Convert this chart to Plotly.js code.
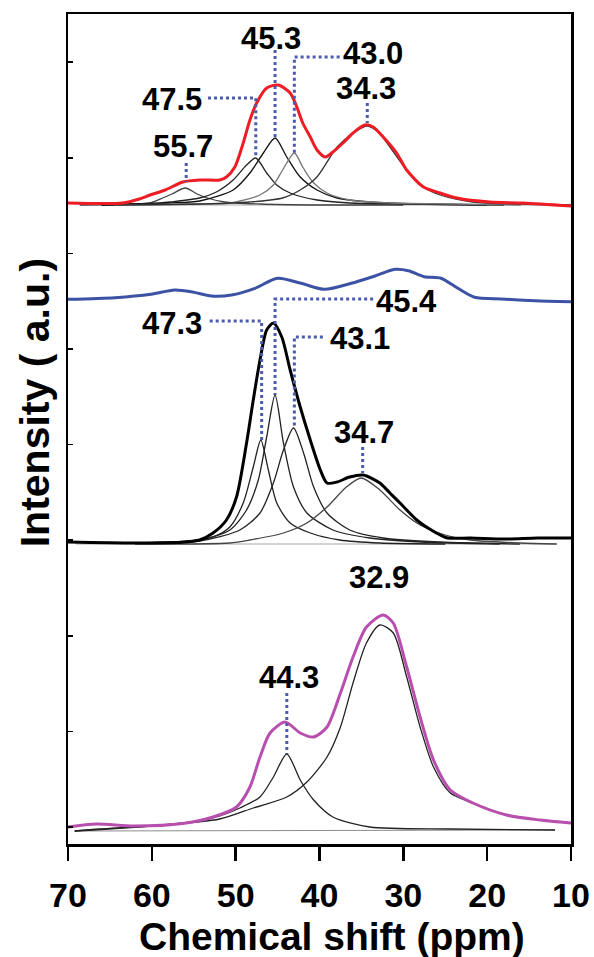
<!DOCTYPE html>
<html>
<head>
<meta charset="utf-8">
<script src="https://cdn.plot.ly/plotly-3.0.1.min.js"></script>
<style>html,body{margin:0;padding:0;background:#fff;}#chart{width:594px;height:957px;}</style>
</head>
<body>
<div id="chart"></div>
<script>
// ---- Data (chemical shift in ppm, intensity in a.u. relative to each spectrum's baseline) ----
const xTicks = [70, 60, 50, 40, 30, 20, 10];

// Top spectrum (red) and its fitted components
const redX = [70, 63.5, 61.5, 60.2, 58.4, 56.3, 54.3, 51.9, 51.1, 50.1, 49.1, 48.3, 47.5, 46.3, 44.9, 43.5, 42.7, 42.0, 41.1, 40.3, 39.3, 38.4, 37.2, 36.0, 34.6, 33.6, 32.4, 30.8, 29.6, 27.6, 25.6, 23.6, 19.7, 15.7, 10];
const redY = [0, 0, 4, 8, 13, 21, 23, 23, 26, 36, 60, 83, 100, 115, 118, 110, 96, 80, 66, 53, 46, 51, 60, 70, 78, 76, 66, 50, 33, 16, 10, 5, 1, 0, -3];
const r557X = [68.6, 62, 60.2, 58.7, 57.6, 56.0, 54.6, 53.4, 51.3, 47.1, 40, 30];
const r557Y = [-2, -1, 0, 5, 9, 15, 9, 5, 1, -1, -2, -2];
const r475X = [66, 59, 57.8, 54.3, 52.3, 50.3, 48.7, 47.6, 46.3, 45.1, 43.5, 40.3, 36.4, 30.4, 20];
const r475Y = [-2, 0, 1, 5, 11, 23, 38, 45, 30, 18, 10, 3, 0, -1, -2];
const r453X = [66, 58, 54.3, 50.3, 48.3, 46.7, 45.3, 43.9, 42.3, 40.3, 37.9, 34.0, 28.0, 18];
const r453Y = [-2, 0, 2, 13, 30, 50, 65, 46, 26, 13, 5, 1, -1, -2];
const r430X = [64, 55, 50.7, 47.1, 45.5, 44.4, 43.0, 42.0, 40.8, 39.1, 36.4, 31.6, 24, 16];
const r430Y = [-2, -1, 0, 8, 18, 33, 50, 36, 21, 10, 3, 0, -1, -2];
const r343X = [64, 54, 48.3, 44.4, 42.3, 40.3, 37.9, 35.8, 34.3, 33.0, 31.6, 29.6, 27.6, 25.6, 21.7, 16.1, 10];
const r343Y = [-2, -1, 1, 5, 13, 26, 56, 71, 77, 71, 56, 33, 16, 8, 1, -1, -2];

// Difference spectrum (blue)
const blueX = [70, 64.4, 60.1, 57.3, 55.3, 52.9, 50.5, 47.7, 45.0, 42.2, 39.4, 36.2, 33.4, 31.0, 29.4, 27.5, 25.5, 23.5, 21.5, 18.3, 14.3, 10];
const blueY = [0.7, 2.3, 5.7, 10, 8.3, 4, 5, 11.7, 21.7, 16.7, 10.7, 16.7, 24, 30.7, 29.3, 23.3, 21.7, 11.7, 2.7, 1, -0.7, -1.7];

// Middle spectrum (black) and its fitted components
const blackX = [70, 62, 56, 54.3, 52.7, 51.1, 49.9, 48.7, 47.9, 47.1, 46.3, 45.5, 44.5, 43.5, 42.3, 41.1, 39.9, 39.1, 37.9, 36.4, 34.8, 32.8, 31.6, 30.4, 29.6, 28.4, 27.6, 25.6, 24.7, 22, 18, 14, 10];
const blackY = [0, -1, 0, 2, 9, 22, 45, 99, 142, 182, 212, 219, 205, 172, 135, 102, 72, 59, 60, 65, 67, 59, 49, 39, 32, 22, 17, 7, 4, 4, 3, 4, 4];
const b473X = [62, 55.4, 52.7, 50.7, 49.1, 47.9, 47.0, 46.1, 45.1, 43.5, 41.1, 37.6, 32.8, 25];
const b473Y = [-1, 1, 5, 15, 39, 75, 102, 72, 39, 19, 9, 2, -1, -2];
const b454X = [62, 54.3, 50.7, 48.7, 47.3, 46.3, 45.3, 44.3, 43.1, 41.5, 38.4, 34.0, 28.0, 18.5];
const b454Y = [-1, 2, 12, 32, 62, 105, 147, 99, 55, 29, 12, 4, 0, -2];
const b431X = [62, 54.3, 49.5, 47.1, 45.5, 44.3, 43.1, 41.9, 40.7, 39.1, 36.4, 32.4, 25.6, 16.1];
const b431Y = [-1, 1, 12, 29, 59, 92, 114, 89, 55, 29, 12, 4, 0, -2];
const b347X = [62, 50.7, 48.3, 44.3, 41.5, 39.1, 36.8, 35.0, 32.8, 30.4, 28.0, 25.0, 22.0, 16.1, 11.7];
const b347Y = [-2, -1, 2, 9, 19, 35, 55, 64, 52, 32, 17, 7, 2, -1, -2];

// Bottom spectrum (magenta) and its fitted components
const magX = [70, 66.6, 62.2, 56.3, 52.7, 49.9, 48.3, 47.1, 45.9, 44.1, 42.3, 40.7, 39.1, 37.5, 36.0, 34.4, 32.4, 31.2, 29.6, 28.0, 26.4, 24.4, 21.7, 17.7, 13.7, 10];
const magY = [0, 3, 1, 3.5, 10, 20, 40, 70, 94, 105, 94, 90, 100, 134, 170, 200, 212, 204, 160, 110, 67, 37, 24, 12, 7, 4];
const m443X = [69.2, 66.2, 60.2, 54.3, 51.9, 49.5, 47.1, 45.5, 43.9, 42.3, 40.7, 38.4, 34.0, 24.4, 11.9];
const m443Y = [-4, -2, 1, 6, 11, 19, 30, 50, 73, 47, 27, 10, 0, -2, -3];
const m329X = [69.2, 60.2, 51.9, 47.9, 43.9, 41.5, 39.1, 37.5, 36.0, 34.4, 32.8, 31.2, 29.6, 28.0, 26.4, 24.4, 21.7, 17.7, 13.7, 10];
const m329Y = [-4, 1, 8, 19, 30, 45, 70, 100, 144, 184, 202, 194, 150, 100, 60, 34, 24, 12, 7, 4];

// Peak labels
const redPeaks = ["45.3", "43.0", "47.5", "55.7", "34.3"];
const blackPeaks = ["47.3", "45.4", "43.1", "34.7"];
const magPeaks = ["44.3", "32.9"];

// ---- Stacking offsets (vertical position of each baseline) ----
const OFF = {red: 641, blue: 544, black: 302, mag: 17};

function sh(arr, off) { return arr.map(v => v + off); }
function tr(x, y, off, color, width) {
  return {x: x, y: sh(y, off), type: 'scatter', mode: 'lines',
    line: {color: color, width: width, shape: 'spline', smoothing: 0.75},
    hoverinfo: 'skip', showlegend: false};
}

const compW = 1.3;
const traces = [
  // red section
  tr([68.6, 10], [-2, -2], OFF.red, 'rgba(0,0,0,0.35)', 1),
  tr(r557X, r557Y, OFF.red, '#444', compW),
  tr(r475X, r475Y, OFF.red, '#222', compW),
  tr(r453X, r453Y, OFF.red, '#111', compW),
  tr(r430X, r430Y, OFF.red, '#777', compW),
  tr(r343X, r343Y, OFF.red, '#333', compW),
  tr(redX, redY, OFF.red, '#ee1c24', 3),
  // blue
  tr(blueX, blueY, OFF.blue, '#3b52a5', 3),
  // black section
  tr([69, 11.7], [-2, -2], OFF.black, 'rgba(0,0,0,0.35)', 1),
  tr(b473X, b473Y, OFF.black, '#222', compW),
  tr(b454X, b454Y, OFF.black, '#222', compW),
  tr(b431X, b431Y, OFF.black, '#222', compW),
  tr(b347X, b347Y, OFF.black, '#444', compW),
  tr(blackX, blackY, OFF.black, '#000', 3),
  // magenta section
  tr([69.2, 11.9], [-4, -3], OFF.mag, 'rgba(0,0,0,0.45)', 1),
  tr(m443X, m443Y, OFF.mag, '#222', compW),
  tr(m329X, m329Y, OFF.mag, '#222', compW),
  tr(magX, magY, OFF.mag, '#b84faf', 3)
];

const DOT = {color: '#4a5bb0', width: 3, dash: 'dot'};
function path(pts) {
  return {type: 'path', xref: 'x', yref: 'y', layer: 'above', line: DOT,
    path: 'M ' + pts.map(p => p[0] + ',' + p[1]).join(' L ')};
}
const shapes = [
  // red
  path([[45.3, 794], [45.3, 707]]),
  path([[37.6, 787], [43.0, 787], [43.0, 691]]),
  path([[53.3, 746], [47.6, 746], [47.6, 687]]),
  path([[55.9, 681], [55.9, 662]]),
  path([[34.3, 741], [34.3, 721]]),
  // black
  path([[53.1, 523], [46.9, 523], [46.9, 404]]),
  path([[33.6, 545], [45.3, 545], [45.3, 449]]),
  path([[39.6, 507], [43.0, 507], [43.0, 416]]),
  path([[34.85, 397], [34.85, 371]]),
  // magenta
  path([[43.9, 151], [43.9, 90]])
];

const LF = {family: 'Liberation Sans, Arial, sans-serif', size: 31, color: '#000', weight: 'bold'};
function lab(text, x, y) {
  return {text: text, x: x, y: y, xref: 'x', yref: 'y', showarrow: false,
    xanchor: 'center', yanchor: 'middle', font: LF};
}
const annotations = [
  lab(redPeaks[0], 45.73, 806),
  lab(redPeaks[1], 33.67, 791),
  lab(redPeaks[2], 57.65, 745),
  lab(redPeaks[3], 56.28, 698),
  lab(redPeaks[4], 34.45, 756),
  lab(blackPeaks[0], 57.65, 521),
  lab(blackPeaks[1], 29.6, 543),
  lab(blackPeaks[2], 35.2, 506),
  lab(blackPeaks[3], 34.75, 412),
  lab(magPeaks[0], 43.6, 166.5),
  lab(magPeaks[1], 32.9, 267),
  {text: 'Chemical shift (ppm)', xref: 'paper', yref: 'paper', x: 0.5, y: 0,
    xshift: 12, yshift: -92, xanchor: 'center', yanchor: 'middle', showarrow: false,
    font: {family: 'Liberation Sans, Arial, sans-serif', size: 39, color: '#000', weight: 'bold'}},
  {text: 'Intensity ( a.u.)', xref: 'paper', yref: 'paper', x: 0, y: 0.531,
    xshift: -33, xanchor: 'center', yanchor: 'middle', textangle: -90, showarrow: false,
    font: {family: 'Liberation Sans, Arial, sans-serif', size: 41, color: '#000', weight: 'bold'}}
];

const layout = {
  width: 594, height: 957,
  margin: {l: 68, r: 23, t: 14, b: 113},
  paper_bgcolor: '#fff', plot_bgcolor: '#fff',
  showlegend: false,
  xaxis: {
    range: [70, 10], tickmode: 'array', tickvals: xTicks, ticktext: xTicks.map(String),
    ticks: 'outside', ticklen: 14, tickwidth: 2.5, tickcolor: '#000',
    ticklabelstandoff: 6,
    tickfont: {family: 'Liberation Sans, Arial, sans-serif', size: 34, color: '#000', weight: 'bold'},
    showline: true, linewidth: 2.5, linecolor: '#000', mirror: true,
    showgrid: false, zeroline: false
  },
  yaxis: {
    range: [0, 830], tickmode: 'linear', tick0: 17, dtick: 95.6,
    ticks: 'inside', ticklen: 5, tickwidth: 1.5, tickcolor: '#000',
    showticklabels: false,
    showline: true, linewidth: 2.5, linecolor: '#000', mirror: true,
    showgrid: false, zeroline: false
  },
  shapes: shapes,
  annotations: annotations
};

Plotly.newPlot('chart', traces, layout, {staticPlot: true, displayModeBar: false});
</script>
</body>
</html>
